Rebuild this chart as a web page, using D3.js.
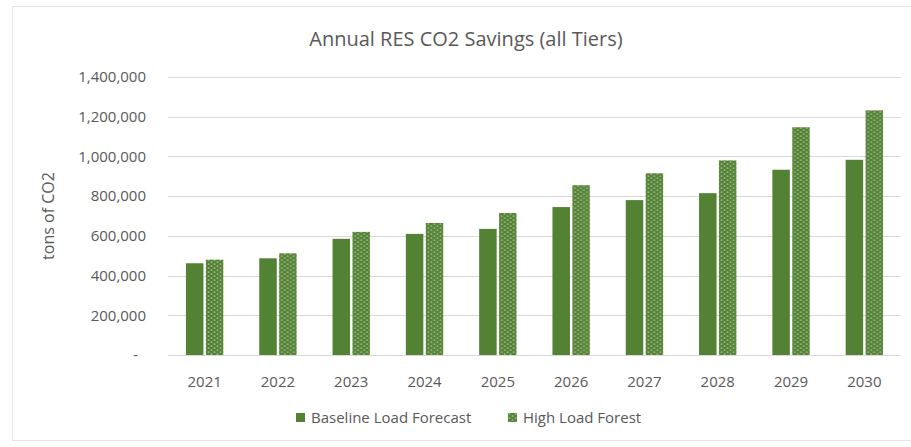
<!DOCTYPE html>
<html>
<head>
<meta charset="utf-8">
<script src="https://cdn.jsdelivr.net/npm/d3@7"></script>
<style>
  body { margin: 0; background: #fff; }
  text { font-family: "Open Sans", "Noto Sans", sans-serif; fill: #595959; }
</style>
</head>
<body>
<svg id="chart" width="911" height="447"></svg>
<script>
const years = ['2021', '2022', '2023', '2024', '2025', '2026', '2027', '2028', '2029', '2030'];
const baseline = [462000, 487000, 585000, 610000, 635000, 745000, 780000, 815000, 933000, 983000];
const highLoad = [480000, 512000, 620000, 665000, 715000, 855000, 915000, 980000, 1147000, 1232000];
const seriesNames = ['Baseline Load Forecast', 'High Load Forest'];
const yTicks = [0, 200000, 400000, 600000, 800000, 1000000, 1200000, 1400000];

const green = '#548235';
const svg = d3.select('#chart');
const margin = {top: 77, right: 10, bottom: 92, left: 168};
const width = 901 - margin.left, height = 355 - margin.top;

// chart frame
svg.append('rect')
  .attr('x', 12.5).attr('y', 6.5)
  .attr('width', 905).attr('height', 434)
  .attr('fill', 'none').attr('stroke', '#e4e4e4');

// pattern for the high load series
const defs = svg.append('defs');
const pat = defs.append('pattern')
  .attr('id', 'checks')
  .attr('patternUnits', 'userSpaceOnUse')
  .attr('width', 6).attr('height', 4);
pat.append('rect').attr('width', 6).attr('height', 4).attr('fill', green);
pat.append('ellipse').attr('cx', 1.5).attr('cy', 1).attr('rx', 1.0).attr('ry', 0.6).attr('fill', '#dbe7cf');
pat.append('ellipse').attr('cx', 4.5).attr('cy', 3).attr('rx', 1.0).attr('ry', 0.6).attr('fill', '#dbe7cf');

const x = d3.scaleBand().domain(years).range([0, width]).paddingInner(0).paddingOuter(0);
const x1 = d3.scaleBand().domain([0, 1]).range([x.bandwidth() * 0.245, x.bandwidth() * 0.755]).paddingInner(0.12);
const y = d3.scaleLinear().domain([0, 1400000]).range([height, 0]);

const g = svg.append('g').attr('transform', `translate(${margin.left},${margin.top})`);

// gridlines
g.append('g')
  .selectAll('line')
  .data(yTicks)
  .enter().append('line')
  .attr('x1', 0).attr('x2', width)
  .attr('y1', d => Math.round(y(d)) + 0.5)
  .attr('y2', d => Math.round(y(d)) + 0.5)
  .attr('stroke', '#d9d9d9');

// y axis labels
const yAxis = g.append('g')
  .call(d3.axisLeft(y).tickValues(yTicks).tickSize(0).tickPadding(22)
    .tickFormat(d => d === 0 ? '-' : d3.format(',')(d)));
yAxis.select('.domain').remove();
yAxis.selectAll('text').style('font-size', '15px').attr('fill', '#595959');
// the zero dash sits a little further left
yAxis.selectAll('.tick').filter(d => d === 0).select('text').attr('x', -30);

// x axis labels
const xAxis = g.append('g')
  .attr('transform', `translate(0,${height})`)
  .call(d3.axisBottom(x).tickSize(0).tickPadding(21));
xAxis.select('.domain').remove();
xAxis.selectAll('text').style('font-size', '15px').attr('fill', '#595959');

// bars
const groups = g.selectAll('.year')
  .data(years)
  .enter().append('g')
  .attr('transform', d => `translate(${x(d)},0)`);

groups.append('rect')
  .attr('x', x1(0))
  .attr('y', (d, i) => y(baseline[i]))
  .attr('width', x1.bandwidth())
  .attr('height', (d, i) => height - y(baseline[i]))
  .attr('fill', green);

groups.append('rect')
  .attr('x', x1(1))
  .attr('y', (d, i) => y(highLoad[i]))
  .attr('width', x1.bandwidth())
  .attr('height', (d, i) => height - y(highLoad[i]))
  .attr('fill', 'url(#checks)');

// title
svg.append('text')
  .attr('x', 466).attr('y', 46)
  .attr('text-anchor', 'middle')
  .style('font-size', '20px')
  .text('Annual RES CO2 Savings (all Tiers)');

// y axis title
svg.append('text')
  .attr('transform', 'translate(54,216) rotate(-90)')
  .attr('text-anchor', 'middle')
  .style('font-size', '16px')
  .text('tons of CO2');

// legend
const legend = svg.append('g').attr('transform', 'translate(296,413)');
const legendX = [0, 212];
seriesNames.forEach((name, i) => {
  const item = legend.append('g').attr('transform', `translate(${legendX[i]},0)`);
  item.append('rect')
    .attr('width', 9).attr('height', 9)
    .attr('fill', i === 0 ? green : 'url(#checks)');
  item.append('text')
    .attr('x', 15).attr('y', 10)
    .style('font-size', '15px')
    .text(name);
});
</script>
</body>
</html>
